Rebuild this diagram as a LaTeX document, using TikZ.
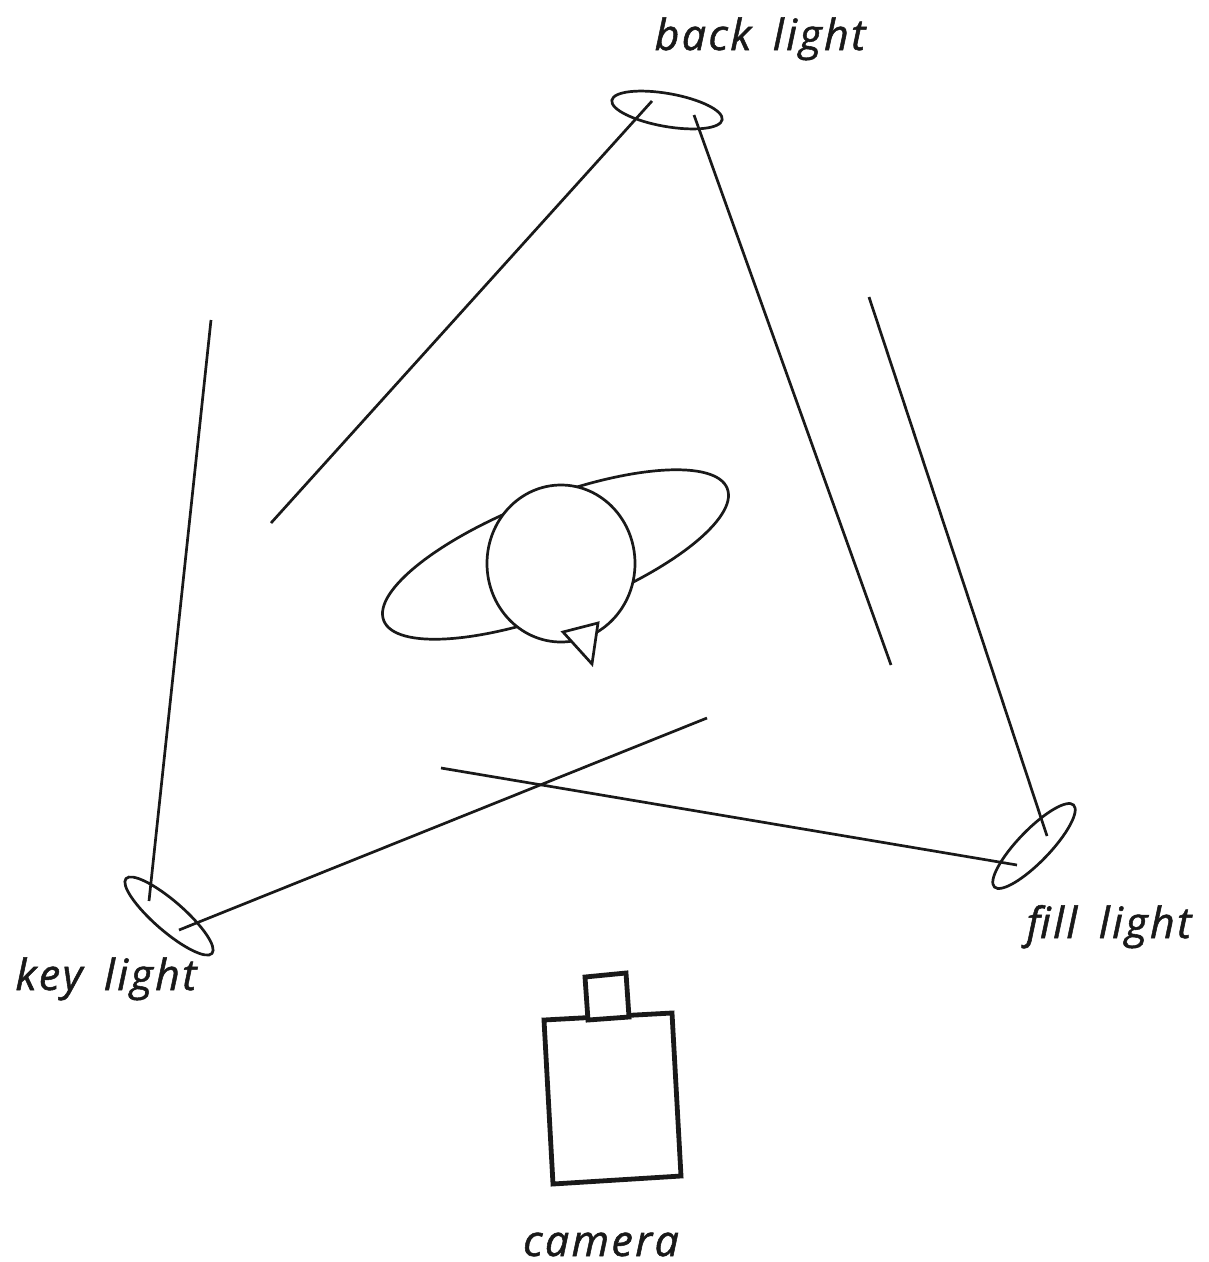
\documentclass[tikz,border=0pt]{standalone}
\usepackage{fontspec}
\setmainfont{Open Sans}[ItalicFont={* Italic},ItalicFeatures={LetterSpace=5.5,WordSpace=1.6,FakeBold=1.2}]
\tikzset{
  ray/.style={draw=black!90,line width=2.7pt},
  outline/.style={draw=black!90,line width=2.7pt,fill=white},
  camerabody/.style={draw=black!90,line width=4.8pt,fill=white,line join=miter},
  lab/.style={font=\fontsize{43}{43}\selectfont\itshape,text=black!90,inner sep=0pt,anchor=base},
}
\begin{document}
\begin{tikzpicture}[x=1pt,y=-1pt]
\useasboundingbox (0,0) rectangle (1209,1262);
% subject
\draw[outline] (555.5,554.5) ellipse [x radius=184,y radius=57,rotate=21];
\draw[outline] (561,563.5) ellipse [x radius=74,y radius=78.5];
\draw[outline] (563,632) -- (598,623) -- (592,664) -- cycle;
% lamps
\draw[outline,fill=none] (667,110) ellipse [x radius=56,y radius=16.5,rotate=-10];
\draw[outline,fill=none] (169,916) ellipse [x radius=57,y radius=15,rotate=-41];
\draw[outline,fill=none] (1034,846) ellipse [x radius=57,y radius=16,rotate=46];
% barn doors
\coordinate (b1) at (652,101); \coordinate (b1e) at (271,523);
\coordinate (b2) at (694,115); \coordinate (b2e) at (891,665);
\coordinate (f1) at (1047,836); \coordinate (f1e) at (869,297);
\coordinate (f2) at (1017,865); \coordinate (f2e) at (441,768);
\coordinate (k1) at (179,930); \coordinate (k1e) at (707,718);
\coordinate (k2) at (149,901); \coordinate (k2e) at (211,320);
\draw[ray] (b1) -- (b1e);
\draw[ray] (b2) -- (b2e);
\draw[ray] (f1) -- (f1e);
\draw[ray] (f2) -- (f2e);
\draw[ray] (k1) -- (k1e);
\draw[ray] (k2) -- (k2e);
% camera
\draw[camerabody] (544,1020) -- (672,1013) -- (681,1176) -- (553,1184) -- cycle;
\draw[camerabody] (585,977) -- (626,973) -- (629,1017) -- (588,1020) -- cycle;
% labels
\node[lab] (backlabel) at (760,50) {back light};
\node[lab] (filllabel) at (1109,938) {fill light};
\node[lab] (keylabel) at (106,990) {key light};
\node[lab] (cameralabel) at (601,1256) {camera};
\end{tikzpicture}
\end{document}
